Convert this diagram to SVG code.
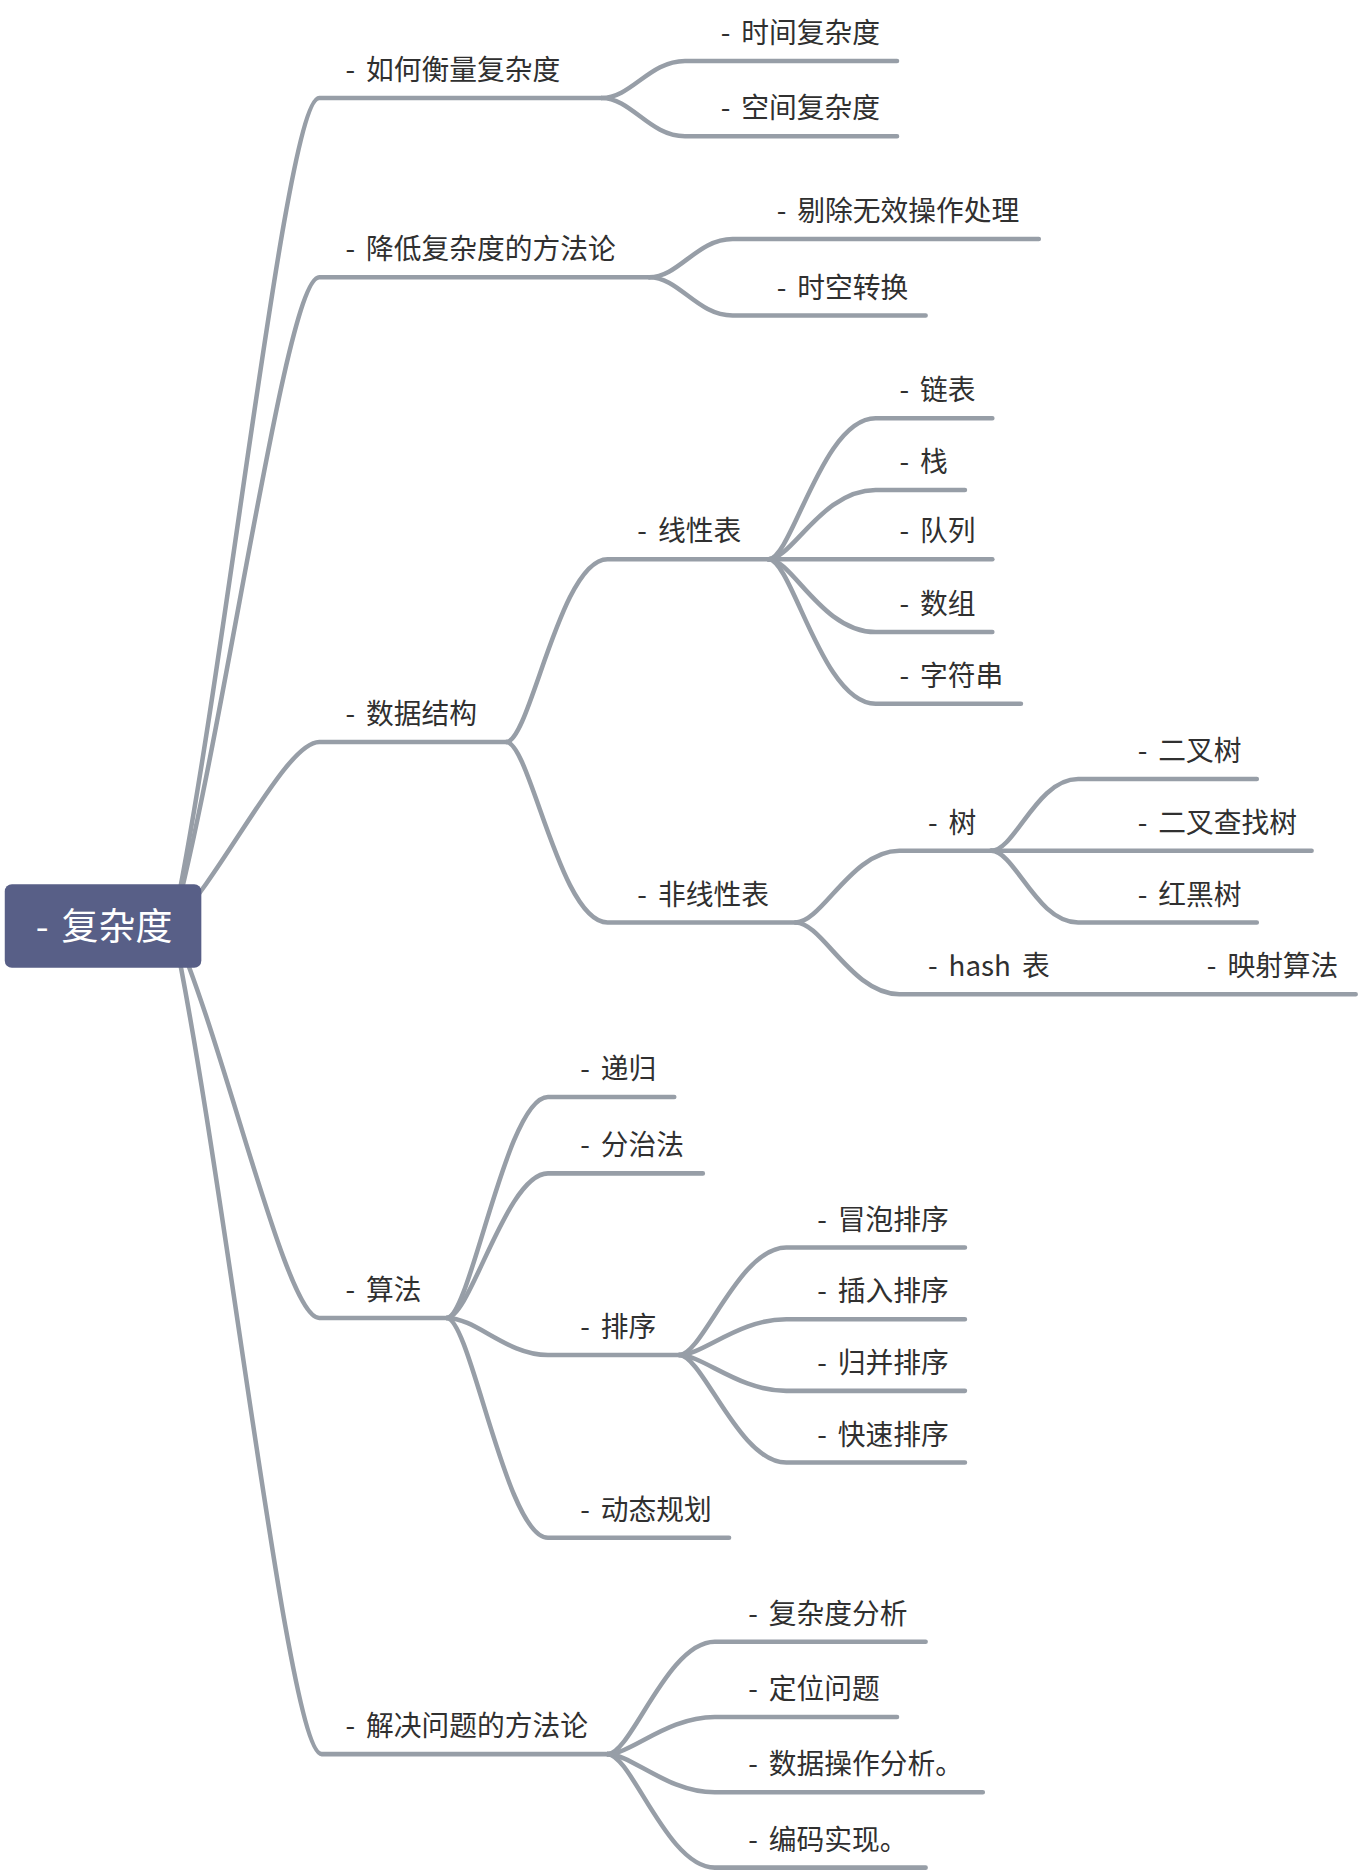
<svg xmlns="http://www.w3.org/2000/svg" width="1364" height="1876" viewBox="0 0 1364 1876">
<style>
.c{fill:none;stroke:#979ea7;stroke-width:3.8;stroke-linecap:round;stroke-linejoin:round}
.t{font-family:"Noto Sans CJK SC","Noto Sans",sans-serif;font-size:23.3px;fill:#303030;word-spacing:4px}
.r{font-family:"Noto Sans CJK SC","Noto Sans",sans-serif;font-size:31px;fill:#ffffff;word-spacing:4px}
</style>
<rect width="1364" height="1876" fill="#ffffff"/>
<g transform="scale(1.1913 1.1949)">
<g id="connectors">
<path class="c" d="M145,775 C190,560 240,82 268,82 L505,82"/>
<path class="c" d="M145,775 C190,606 240,232 268,232 L545,232"/>
<path class="c" d="M145,775 C190,727 240,621 268,621 L425,621"/>
<path class="c" d="M145,775 C190,877 240,1103 268,1103 L375,1103"/>
<path class="c" d="M145,775 C190,990 242,1468 270,1468 L510,1468"/>
<path class="c" d="M505,82 C530,82 545,51 575,51 L753,51"/>
<path class="c" d="M505,82 C530,82 545,114 575,114 L753,114"/>
<path class="c" d="M545,232 C570,232 585,200 615,200 L872,200"/>
<path class="c" d="M545,232 C570,232 585,264 615,264 L777,264"/>
<path class="c" d="M425,621 C445,621 470,468 510,468 L645,468"/>
<path class="c" d="M425,621 C445,621 470,772 510,772 L668,772"/>
<path class="c" d="M645,468 C665,468 690,350 735,350 L833,350"/>
<path class="c" d="M645,468 C665,468 690,410 735,410 L810,410"/>
<path class="c" d="M645,468 L833,468"/>
<path class="c" d="M645,468 C665,468 690,529 735,529 L833,529"/>
<path class="c" d="M645,468 C665,468 690,589 735,589 L857,589"/>
<path class="c" d="M668,772 C690,772 715,712 755,712 L832,712"/>
<path class="c" d="M668,772 C690,772 715,832 755,832 L1138,832"/>
<path class="c" d="M832,712 C852,712 870,652 905,652 L1055,652"/>
<path class="c" d="M832,712 L1101,712"/>
<path class="c" d="M832,712 C852,712 870,772 905,772 L1055,772"/>
<path class="c" d="M375,1103 C395,1103 425,918 460,918 L566,918"/>
<path class="c" d="M375,1103 C395,1103 425,982 460,982 L590,982"/>
<path class="c" d="M375,1103 C400,1103 425,1134 460,1134 L570,1134"/>
<path class="c" d="M375,1103 C395,1103 425,1287 460,1287 L612,1287"/>
<path class="c" d="M570,1134 C590,1134 620,1044 660,1044 L810,1044"/>
<path class="c" d="M570,1134 C590,1134 620,1104 660,1104 L810,1104"/>
<path class="c" d="M570,1134 C590,1134 620,1164 660,1164 L810,1164"/>
<path class="c" d="M570,1134 C590,1134 620,1224 660,1224 L810,1224"/>
<path class="c" d="M510,1468 C530,1468 560,1374 600,1374 L777,1374"/>
<path class="c" d="M510,1468 C530,1468 560,1437 600,1437 L753,1437"/>
<path class="c" d="M510,1468 C530,1468 560,1500 600,1500 L825,1500"/>
<path class="c" d="M510,1468 C530,1468 560,1563 600,1563 L777,1563"/>
</g>
<g id="root">
<rect x="4" y="740" width="165" height="70" rx="6" fill="#585f87"/>
<text class="r" x="30" y="787">- 复杂度</text>
</g>
<g id="n-measure"><text class="t" x="290" y="67">- 如何衡量复杂度</text></g>
<g id="n-time"><text class="t" x="605" y="36">- 时间复杂度</text></g>
<g id="n-space"><text class="t" x="605" y="99">- 空间复杂度</text></g>
<g id="n-reduce"><text class="t" x="290" y="217">- 降低复杂度的方法论</text></g>
<g id="n-remove"><text class="t" x="652" y="185">- 剔除无效操作处理</text></g>
<g id="n-timespace"><text class="t" x="652" y="249">- 时空转换</text></g>
<g id="n-ds"><text class="t" x="290" y="606">- 数据结构</text></g>
<g id="n-linear"><text class="t" x="535" y="453">- 线性表</text></g>
<g id="n-list"><text class="t" x="755" y="335">- 链表</text></g>
<g id="n-stack"><text class="t" x="755" y="395">- 栈</text></g>
<g id="n-queue"><text class="t" x="755" y="453">- 队列</text></g>
<g id="n-array"><text class="t" x="755" y="514">- 数组</text></g>
<g id="n-string"><text class="t" x="755" y="574">- 字符串</text></g>
<g id="n-nonlinear"><text class="t" x="535" y="757">- 非线性表</text></g>
<g id="n-tree"><text class="t" x="779" y="697">- 树</text></g>
<g id="n-bt"><text class="t" x="955" y="637">- 二叉树</text></g>
<g id="n-bst"><text class="t" x="955" y="697">- 二叉查找树</text></g>
<g id="n-rbt"><text class="t" x="955" y="757">- 红黑树</text></g>
<g id="n-hash"><text class="t" x="779" y="817">- hash 表</text></g>
<g id="n-map"><text class="t" x="1013" y="817">- 映射算法</text></g>
<g id="n-algo"><text class="t" x="290" y="1088">- 算法</text></g>
<g id="n-rec"><text class="t" x="487" y="903">- 递归</text></g>
<g id="n-dc"><text class="t" x="487" y="967">- 分治法</text></g>
<g id="n-sort"><text class="t" x="487" y="1119">- 排序</text></g>
<g id="n-bubble"><text class="t" x="686" y="1029">- 冒泡排序</text></g>
<g id="n-insert"><text class="t" x="686" y="1089">- 插入排序</text></g>
<g id="n-merge"><text class="t" x="686" y="1149">- 归并排序</text></g>
<g id="n-quick"><text class="t" x="686" y="1209">- 快速排序</text></g>
<g id="n-dp"><text class="t" x="487" y="1272">- 动态规划</text></g>
<g id="n-solve"><text class="t" x="290" y="1453">- 解决问题的方法论</text></g>
<g id="n-analyze"><text class="t" x="628" y="1359">- 复杂度分析</text></g>
<g id="n-locate"><text class="t" x="628" y="1422">- 定位问题</text></g>
<g id="n-dataop"><text class="t" x="628" y="1485">- 数据操作分析。</text></g>
<g id="n-code"><text class="t" x="628" y="1548">- 编码实现。</text></g>
</g>
</svg>
